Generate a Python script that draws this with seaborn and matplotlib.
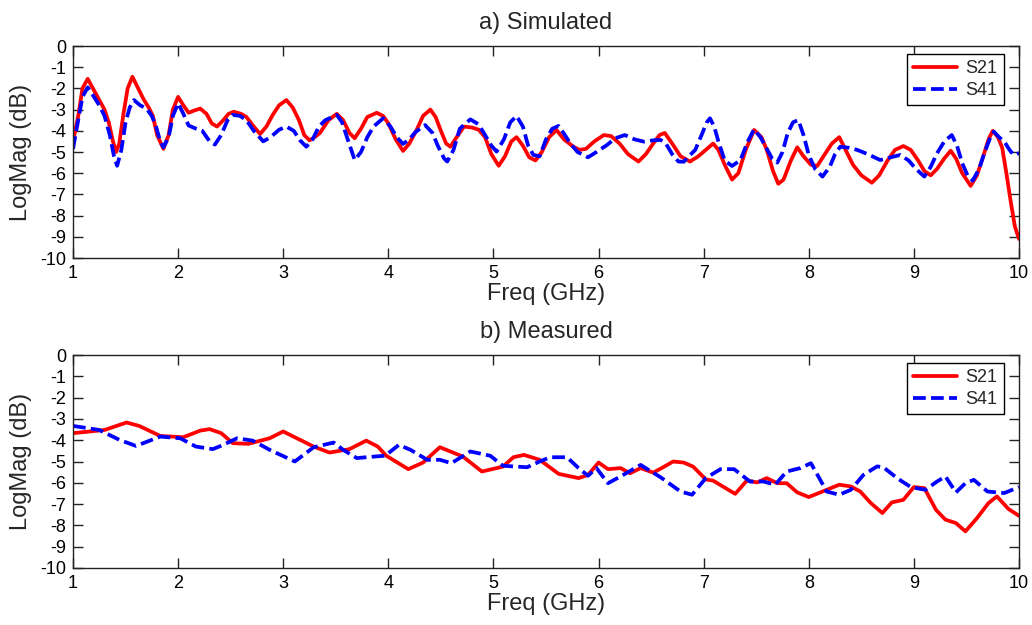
import matplotlib
matplotlib.use("Agg")
import matplotlib.pyplot as plt
import seaborn as sns
import pandas as pd

# ---- data: simulated ----
sim_f_s21 = [1.00,1.05,1.09,1.14,1.20,1.25,1.30,1.34,1.38,1.41,1.44,1.48,1.52,1.565,1.62,1.67,1.72,1.76,1.80,1.86,1.91,1.95,
             2.00,2.05,2.10,2.15,2.21,2.27,2.32,2.37,2.43,2.48,2.53,2.60,2.65,2.72,2.78,2.84,2.90,2.96,
             3.03,3.09,3.15,3.20,3.25,3.30,3.35,3.43,3.51,3.57,3.63,3.68,3.74,3.80,3.89,3.95,
             4.00,4.07,4.14,4.20,4.27,4.33,4.40,4.45,4.50,4.55,4.59,4.65,4.72,4.80,4.86,4.92,4.98,
             5.05,5.11,5.17,5.22,5.28,5.34,5.40,5.46,5.53,5.60,5.67,5.76,5.82,5.88,5.96,
             6.05,6.12,6.20,6.28,6.38,6.45,6.52,6.58,6.63,6.70,6.78,6.87,6.95,
             7.02,7.09,7.14,7.20,7.27,7.33,7.40,7.48,7.55,7.60,7.66,7.71,7.76,7.83,7.89,7.95,
             8.02,8.08,8.14,8.22,8.29,8.35,8.42,8.50,8.60,8.67,8.75,8.82,8.90,8.97,
             9.04,9.10,9.16,9.22,9.29,9.35,9.40,9.46,9.54,9.60,9.66,9.71,9.75,9.80,9.84,9.88,9.92,9.96,10.0]
sim_s21 = [-4.5,-3.3,-2.0,-1.55,-2.1,-2.55,-3.0,-3.6,-4.5,-5.0,-4.6,-3.2,-2.0,-1.45,-2.0,-2.5,-2.9,-3.3,-4.2,-4.85,-4.2,-3.0,
           -2.4,-2.8,-3.15,-3.05,-2.95,-3.2,-3.65,-3.8,-3.5,-3.2,-3.1,-3.2,-3.35,-3.8,-4.15,-3.8,-3.25,-2.8,
           -2.55,-2.9,-3.5,-4.2,-4.45,-4.3,-4.1,-3.5,-3.2,-3.5,-4.1,-4.35,-3.9,-3.35,-3.15,-3.3,
           -3.65,-4.4,-4.95,-4.6,-3.95,-3.3,-3.0,-3.35,-4.0,-4.6,-4.75,-4.3,-3.8,-3.85,-3.95,-4.3,-5.1,
           -5.65,-5.2,-4.5,-4.3,-4.7,-5.25,-5.4,-5.0,-4.3,-3.96,-4.4,-4.75,-4.9,-4.85,-4.5,
           -4.2,-4.25,-4.6,-5.1,-5.45,-5.1,-4.6,-4.2,-4.1,-4.6,-5.2,-5.45,-5.2,
           -4.9,-4.6,-4.9,-5.6,-6.3,-6.0,-4.9,-3.96,-4.3,-4.9,-5.9,-6.5,-6.3,-5.4,-4.78,-5.2,
           -5.6,-5.66,-5.2,-4.6,-4.3,-4.9,-5.6,-6.1,-6.45,-6.1,-5.4,-4.9,-4.72,-4.9,
           -5.4,-5.9,-6.1,-5.8,-5.3,-4.94,-5.3,-6.0,-6.6,-6.1,-5.2,-4.4,-4.0,-4.3,-4.8,-6.0,-7.3,-8.5,-9.1]

sim_f_s41 = [1.00,1.05,1.09,1.14,1.20,1.25,1.30,1.35,1.39,1.42,1.46,1.50,1.54,1.58,1.64,1.70,1.75,1.79,1.83,1.86,1.91,1.95,
             2.00,2.05,2.10,2.17,2.23,2.30,2.35,2.41,2.47,2.52,2.59,2.65,2.72,2.81,2.88,2.96,
             3.03,3.10,3.16,3.22,3.28,3.34,3.40,3.51,3.56,3.62,3.68,3.74,3.80,3.86,3.95,
             4.02,4.08,4.14,4.20,4.26,4.35,4.42,4.47,4.53,4.56,4.62,4.68,4.78,4.86,4.92,4.98,
             5.03,5.10,5.16,5.22,5.28,5.33,5.38,5.44,5.50,5.56,5.62,5.68,5.73,5.80,5.90,5.98,
             6.08,6.16,6.25,6.34,6.43,6.52,6.59,6.64,6.70,6.76,6.81,6.87,6.92,6.98,
             7.03,7.06,7.10,7.14,7.20,7.27,7.35,7.42,7.48,7.54,7.59,7.65,7.70,7.75,7.80,7.85,7.90,7.95,
             8.00,8.06,8.13,8.20,8.25,8.30,8.38,8.46,8.56,8.68,8.78,8.87,8.95,
             9.02,9.10,9.16,9.22,9.29,9.36,9.41,9.46,9.51,9.56,9.62,9.67,9.72,9.76,9.81,9.86,9.91,9.95,10.0]
sim_s41 = [-4.85,-3.5,-2.4,-1.95,-2.4,-2.8,-3.3,-4.2,-5.2,-5.65,-4.9,-3.6,-2.9,-2.55,-2.8,-2.95,-3.3,-3.8,-4.5,-4.78,-4.3,-3.3,
           -2.7,-3.2,-3.75,-3.9,-4.0,-4.5,-4.65,-4.2,-3.5,-3.25,-3.3,-3.5,-4.0,-4.5,-4.3,-3.95,
           -3.8,-4.0,-4.45,-4.75,-4.4,-3.8,-3.5,-3.25,-3.6,-4.5,-5.38,-5.0,-4.3,-3.8,-3.41,
           -3.8,-4.3,-4.62,-4.4,-4.05,-3.73,-4.1,-4.7,-5.3,-5.45,-4.9,-3.9,-3.46,-3.7,-4.2,-4.7,
           -4.98,-4.4,-3.6,-3.3,-3.8,-4.7,-5.14,-5.2,-4.4,-3.9,-3.77,-4.2,-4.59,-5.0,-5.25,-5.0,
           -4.67,-4.35,-4.2,-4.4,-4.51,-4.45,-4.43,-4.6,-5.1,-5.45,-5.46,-5.15,-4.9,-4.2,
           -3.6,-3.41,-3.8,-4.5,-5.4,-5.66,-5.38,-4.5,-3.93,-4.3,-4.75,-5.3,-5.5,-5.0,-4.1,-3.6,-3.49,-4.2,
           -5.14,-5.8,-6.16,-5.7,-5.1,-4.75,-4.8,-4.9,-5.1,-5.38,-5.25,-5.14,-5.4,
           -5.8,-6.16,-5.7,-5.06,-4.5,-4.2,-4.7,-5.53,-6.1,-6.35,-5.8,-5.06,-4.4,-4.04,-4.3,-4.51,-4.9,-5.14,-5.05]

# ---- data: measured ----
meas_f_s21 = [1.00,1.30,1.51,1.63,1.83,2.05,2.21,2.30,2.41,2.52,2.67,2.87,3.00,3.13,3.29,3.44,3.63,3.79,3.90,3.98,
              4.19,4.33,4.49,4.71,4.89,5.03,5.09,5.19,5.29,5.44,5.62,5.81,5.90,6.00,6.09,6.21,6.30,6.40,6.52,6.60,
              6.71,6.81,6.90,7.02,7.09,7.30,7.41,7.51,7.60,7.70,7.79,7.89,8.00,8.11,8.29,8.40,8.49,8.59,8.70,8.79,
              8.90,9.00,9.10,9.21,9.30,9.40,9.49,9.60,9.71,9.79,9.90,10.0]
meas_s21 = [-3.67,-3.52,-3.17,-3.33,-3.8,-3.86,-3.55,-3.48,-3.67,-4.14,-4.17,-3.91,-3.59,-3.91,-4.3,-4.58,-4.42,-4.02,-4.3,-4.73,
            -5.36,-5.05,-4.33,-4.77,-5.47,-5.31,-5.24,-4.8,-4.69,-4.92,-5.58,-5.78,-5.63,-5.05,-5.36,-5.31,-5.55,-5.31,-5.52,-5.31,
            -5.0,-5.05,-5.24,-5.84,-5.9,-6.52,-5.9,-5.98,-5.78,-6.02,-6.02,-6.45,-6.67,-6.45,-6.09,-6.17,-6.41,-6.95,-7.42,-6.92,
            -6.8,-6.2,-6.25,-7.27,-7.73,-7.89,-8.28,-7.66,-6.95,-6.64,-7.23,-7.55]

meas_f_s41 = [1.00,1.25,1.44,1.60,1.83,2.02,2.17,2.33,2.43,2.56,2.71,2.87,3.11,3.29,3.48,3.57,3.70,3.86,3.97,
              4.10,4.21,4.37,4.49,4.60,4.78,4.97,5.09,5.32,5.44,5.54,5.70,5.81,5.90,5.98,6.09,6.21,6.40,6.59,
              6.78,6.89,7.02,7.16,7.29,7.44,7.57,7.68,7.79,7.92,8.02,8.10,8.17,8.29,8.40,8.52,8.65,8.71,8.84,
              8.97,9.11,9.22,9.30,9.40,9.49,9.57,9.70,9.86,10.0]
meas_s41 = [-3.33,-3.52,-3.98,-4.27,-3.83,-3.91,-4.3,-4.42,-4.22,-3.91,-4.02,-4.45,-5.0,-4.33,-4.11,-4.45,-4.84,-4.77,-4.73,
            -4.22,-4.45,-4.92,-4.92,-5.08,-4.53,-4.73,-5.2,-5.27,-5.0,-4.8,-4.8,-5.31,-5.67,-5.31,-6.02,-5.7,-5.16,-5.74,
            -6.41,-6.56,-5.78,-5.36,-5.36,-5.94,-5.94,-6.09,-5.47,-5.31,-5.08,-5.78,-6.41,-6.56,-6.33,-5.63,-5.23,-5.27,-5.78,
            -6.2,-6.33,-5.94,-5.7,-6.45,-6.02,-5.86,-6.41,-6.48,-6.2]

titles = ["a) Simulated", "b) Measured"]
series_labels = ["S21", "S41"]
xticks = list(range(1, 11))
yticks = list(range(0, -11, -1))
xlabel = "Freq (GHz)"
ylabel = "LogMag (dB)"

sns.set_style("ticks")
plt.rcParams["font.family"] = ["Liberation Sans", "DejaVu Sans"]

W, H = 1032, 625
fig = plt.figure(figsize=(W / 100, H / 100), dpi=100)

def frac_rect(x0, y0, x1, y1):
    return [x0 / W, 1 - y1 / H, (x1 - x0) / W, (y1 - y0) / H]

ax_top = fig.add_axes(frac_rect(73, 46, 1019, 258))
ax_bot = fig.add_axes(frac_rect(73, 355, 1019, 568))

panels = [
    (ax_top, titles[0], (sim_f_s21, sim_s21), (sim_f_s41, sim_s41)),
    (ax_bot, titles[1], (meas_f_s21, meas_s21), (meas_f_s41, meas_s41)),
]

for ax, title, (fa, ya), (fb, yb) in panels:
    sns.lineplot(x=fa, y=ya, ax=ax, color="#ff0000", lw=2.7, label=series_labels[0],
                 sort=False, estimator=None, solid_joinstyle="round", solid_capstyle="round")
    sns.lineplot(x=fb, y=yb, ax=ax, color="#0000ff", lw=2.7, label=series_labels[1],
                 linestyle=(0, (3.4, 1.4)), sort=False, estimator=None,
                 dash_joinstyle="round")
    ax.set_xlim(1, 10)
    ax.set_ylim(-10, 0)
    ax.set_xticks(xticks)
    ax.set_xticklabels([str(t) for t in xticks])
    ax.set_yticks(yticks)
    ax.set_yticklabels([str(t) for t in yticks])
    ax.tick_params(direction="in", length=7, width=1, top=True, right=True,
                   labelsize=13, pad=5, colors="#222222", labelcolor="black")
    for sp in ax.spines.values():
        sp.set_visible(True)
        sp.set_color("#222222")
        sp.set_linewidth(1.0)
    ax.set_xlabel(xlabel, fontsize=17, labelpad=1)
    ax.set_ylabel(ylabel, fontsize=17, labelpad=6)
    ax.set_title(title, fontsize=17, pad=12)
    leg = ax.legend(loc="upper right", bbox_to_anchor=(0.984, 0.962), borderaxespad=0,
                    fontsize=13, frameon=True, fancybox=False, framealpha=1,
                    edgecolor="black", handlelength=2.4, handletextpad=0.5,
                    borderpad=0.35, labelspacing=0.25)
    leg.get_frame().set_linewidth(1.0)

fig.savefig("out.png", dpi=100)
